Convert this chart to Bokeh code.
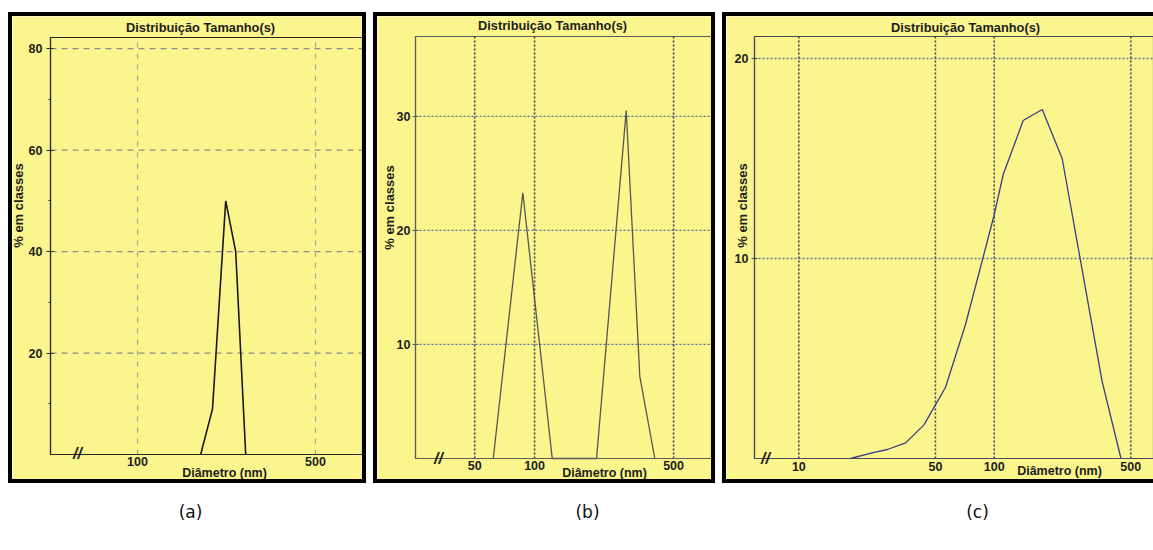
import math

from bokeh.plotting import figure
from bokeh.models import (Range1d, FixedTicker, PrintfTickFormatter, Label,
                          BoxAnnotation, Spacer)
from bokeh.layouts import row, column
from bokeh.embed import file_html
from bokeh.resources import INLINE

# ---- data ---------------------------------------------------------------
# (a) single narrow population
a_diam = [177, 197, 222, 243, 266]
a_pct = [0, 9, 50, 40, 0]
# (b) two populations
b_diam = [62.0, 87.3, 122.7, 204.9, 288.9, 338.1, 402.2]
b_pct = [0, 23.3, 0, 0, 30.5, 7.2, 0]
# (c) broad population
c_diam = [18.4, 23.7, 28.4, 35.2, 43.6, 56.3, 71.3, 99.5, 111.2, 140.7,
          176.1, 222.8, 357.1, 445.6]
c_pct = [0, 0.28, 0.45, 0.78, 1.67, 3.55, 6.7, 12.1, 14.2, 16.9, 17.45,
         15.0, 3.83, 0]

a_xticks = [100, 500]
a_yticks = [20, 40, 60, 80]
b_xticks = [50, 100, 500]
b_yticks = [10, 20, 30]
c_xticks = [10, 50, 100, 500]
c_yticks = [10, 20]

title_text = "Distribuição Tamanho(s)"
ylabel_text = "% em classes"
xlabel_text = "Diâmetro (nm)"
panel_names = ["(a)", "(b)", "(c)"]

W, H = 1153, 550
YELLOW = "#FAF58C"
FONT = "Liberation Sans"
INK = "#1e1e1e"
CARD_TOP, CARD_BOTTOM = 16, 479


class Card:
    """One yellow card. The Bokeh frame fills the whole card; the plotting
    area (axes, grid, curve) sits inside it at a given pixel box."""

    def __init__(self, cx0, cx1, area, xspan, ytop, axis_color):
        L, R, T, B = area
        lo, hi = math.log10(xspan[0]), math.log10(xspan[1])
        kx = (hi - lo) / (R - L)
        ky = ytop / (B - T)
        xr = (10 ** (lo - (L - cx0) * kx), 10 ** (hi + (cx1 - R) * kx))
        yr = (-(CARD_BOTTOM - B) * ky, ytop + (T - CARD_TOP) * ky)
        self.cx0 = cx0
        self.xspan, self.ytop = xspan, ytop
        self.p = p = figure(width=cx1 - cx0, height=CARD_BOTTOM - CARD_TOP,
                            x_axis_type="log", x_range=Range1d(*xr),
                            y_range=Range1d(*yr), output_backend="svg",
                            toolbar_location=None, min_border=0,
                            styles={"outline": "4px solid black"})
        p.border_fill_color = YELLOW
        p.background_fill_color = YELLOW
        p.outline_line_color = None
        p.grid.visible = False
        # edges of the plotting area
        p.add_layout(BoxAnnotation(left=xspan[0], right=xspan[1], bottom=0,
                                   top=ytop, fill_color=None, fill_alpha=0,
                                   line_color=axis_color, line_alpha=1,
                                   line_width=1.2, level="underlay"))

    def axes(self, xticks, yticks, minor, axis_color, ytick_out, ystandoff,
             xstandoff):
        p = self.p
        xa = p.xaxis[0]
        xa.fixed_location = 0
        xa.bounds = self.xspan
        xa.ticker = FixedTicker(ticks=xticks)
        xa.formatter = PrintfTickFormatter(format="%d")
        xa.major_tick_out = 0
        xa.major_tick_in = 0
        xa.minor_tick_out = 0
        xa.minor_tick_in = 0
        xa.major_label_standoff = xstandoff

        ya = p.yaxis[0]
        ya.fixed_location = self.xspan[0]
        ya.bounds = (0, self.ytop)
        ya.ticker = FixedTicker(ticks=yticks, minor_ticks=minor)
        ya.major_tick_out = ytick_out
        ya.major_tick_in = 3
        ya.minor_tick_out = 2
        ya.minor_tick_in = 0
        ya.major_label_standoff = ystandoff

        for ax in (xa, ya):
            ax.axis_line_color = axis_color
            ax.axis_line_width = 1.2
            ax.major_tick_line_color = axis_color
            ax.minor_tick_line_color = axis_color
            ax.major_label_text_font = FONT
            ax.major_label_text_font_style = "bold"
            ax.major_label_text_font_size = "12.5px"
            ax.major_label_text_color = INK

    def grid(self, xticks, yticks, horiz, vert):
        """Grid lines at the tick values, limited to the plotting area."""
        p = self.p
        n = len(yticks)
        p.segment(x0=[self.xspan[0]] * n, x1=[self.xspan[1]] * n,
                  y0=yticks, y1=yticks, line_color=horiz[0],
                  line_dash=horiz[1], line_width=horiz[2])
        n = len(xticks)
        p.segment(x0=xticks, x1=xticks, y0=[0] * n, y1=[self.ytop] * n,
                  line_color=vert[0], line_dash=vert[1], line_width=vert[2])

    def text(self, x, y, text, size, angle=0.0, style="bold", font=FONT,
             color=INK):
        """Text centred on page position (x, y)."""
        self.p.add_layout(Label(x=x - self.cx0, y=CARD_BOTTOM - y,
                                x_units="screen", y_units="screen",
                                text=text, angle=angle, text_align="center",
                                text_baseline="middle", text_font=font,
                                text_font_size=f"{size}px",
                                text_font_style=style, text_color=color))

    def labels(self, title_xy, ylabel_xy, xlabel_xy, break_xy):
        self.text(*title_xy, title_text, 12.8)
        self.text(*ylabel_xy, ylabel_text, 13, angle=math.pi / 2)
        self.text(*xlabel_xy, xlabel_text, 12.5)
        self.text(*break_xy, "//", 16, style="bold italic")


# ---- (a) -----------------------------------------------------------------
ca = Card(12, 362, (50, 362, 37, 454), (45.5, 765.1), 82.2, "#2a2a2a")
ca.grid(a_xticks, a_yticks, ("#8e8e86", "6 5", 1.3), ("#a6a69c", "5 6", 1.2))
ca.axes(a_xticks, a_yticks, [t - 10 for t in a_yticks], "#2a2a2a", 4, 4, 2)
ca.p.line(a_diam, a_pct, line_color="#1a1a1a", line_width=1.6)
ca.labels((200, 27), (18, 205), (224, 472), (77, 453))

# ---- (b) -----------------------------------------------------------------
cb = Card(377, 711, (415, 711, 36, 458), (25.2, 775.3), 37.0, "#5e5e5e")
cb.grid(b_xticks, b_yticks, ("#5b6a99", "2 2", 1.3), ("#3d3d55", "2 2", 1.6))
cb.axes(b_xticks, b_yticks, [], "#5e5e5e", 3, 2, 2)
cb.p.line(b_diam, b_pct, line_color="#555555", line_width=1.3)
cb.labels((552, 25), (389, 207), (604, 472), (438, 458))

# ---- (c) -----------------------------------------------------------------
cc = Card(726, 1153, (754, 1153, 36, 458), (5.93, 653.6), 21.1, "#4a4a5a")
cc.grid(c_xticks, c_yticks, ("#6878ad", "2 2", 1.3), ("#45455f", "2 2", 1.6))
cc.axes(c_xticks, c_yticks, [], "#4a4a5a", 3, 3, 3)
cc.p.line(c_diam, c_pct, line_color="#3b3b8c", line_width=1.3)
cc.labels((965, 27), (742, 205), (1059, 470), (765, 458))

# ---- captions under the three cards --------------------------------------
cap_h = H - CARD_BOTTOM
cap = figure(width=W, height=cap_h, x_range=Range1d(0, W),
             y_range=Range1d(0, cap_h), output_backend="svg",
             toolbar_location=None, x_axis_location=None,
             y_axis_location=None, min_border=0)
cap.grid.visible = False
cap.outline_line_color = None
cap.border_fill_color = None
cap.background_fill_color = None
for name, cx in zip(panel_names, [190, 587, 977]):
    cap.add_layout(Label(x=cx, y=H - 511, x_units="screen", y_units="screen",
                         text=name, text_align="center",
                         text_baseline="middle", text_font="DejaVu Sans",
                         text_font_size="17px", text_color="#111111"))

gap = CARD_BOTTOM - CARD_TOP
cards = row(Spacer(width=12, height=gap), ca.p, Spacer(width=15, height=gap),
            cb.p, Spacer(width=15, height=gap), cc.p, spacing=0)
page = column(Spacer(width=W, height=CARD_TOP), cards, cap, spacing=0)
open("out.html", "w").write(file_html(page, INLINE))
